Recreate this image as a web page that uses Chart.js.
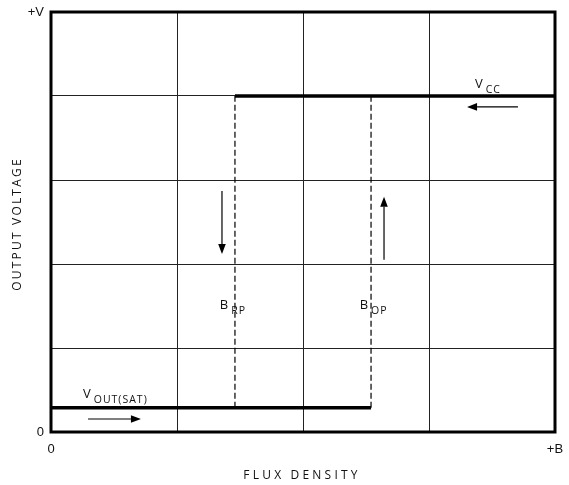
<!DOCTYPE html>
<html>
<head>
  <meta charset="UTF-8">
  <title>Output Voltage vs Flux Density</title>
  <script src="https://cdn.jsdelivr.net/npm/chart.js"></script>
  <style>
    html, body { margin: 0; padding: 0; background: #fff; }
    #wrap { width: 569px; height: 485px; }
  </style>
</head>
<body>
  <div id="wrap"><canvas id="hallChart"></canvas></div>

  <script>
    // axis ranges and end labels
    const xTicks = [0, 4];
    const xTickText = ['0', '+B'];
    const yTicks = [0, 5];
    const yTickText = ['0', '+V'];

    // switching points and output levels
    const vSat = 0.29;
    const vCC = 4;
    const bRP = 1.46;
    const bOP = 2.54;

    const lowLine = [{ x: 0, y: vSat }, { x: bOP, y: vSat }];
    const highLine = [{ x: bRP, y: vCC }, { x: 4, y: vCC }];
    const rpDash = [{ x: bRP, y: vSat }, { x: bRP, y: vCC }];
    const opDash = [{ x: bOP, y: vSat }, { x: bOP, y: vCC }];

    // arrows: [x from, y from, x to, y to]
    const arrows = [
      [1.357, 2.87, 1.357, 2.12],
      [2.643, 2.05, 2.643, 2.80],
      [0.294, 0.155, 0.714, 0.155],
      [3.706, 3.87, 3.302, 3.87]
    ];

    // labels: [text, subscript, x, y]
    const labels = [
      ['V', 'CC', 3.365, 4.095],
      ['V', 'OUT(SAT)', 0.254, 0.405],
      ['B', 'RP', 1.34, 1.46],
      ['B', 'OP', 2.45, 1.46]
    ];

    const labelFont = '"Open Sans", sans-serif';

    const drawingPlugin = {
      id: 'drawing',
      afterDatasetsDraw(chart) {
        const ctx = chart.ctx;
        const xs = chart.scales.x, ys = chart.scales.y;
        const a = chart.chartArea;
        ctx.save();

        // heavy frame
        ctx.strokeStyle = '#000';
        ctx.lineWidth = 3;
        ctx.strokeRect(a.left, a.top, a.right - a.left, a.bottom - a.top);

        // arrows
        ctx.lineWidth = 1.2;
        ctx.fillStyle = '#000';
        arrows.forEach(ar => {
          const x1 = xs.getPixelForValue(ar[0]), y1 = ys.getPixelForValue(ar[1]);
          const x2 = xs.getPixelForValue(ar[2]), y2 = ys.getPixelForValue(ar[3]);
          const ang = Math.atan2(y2 - y1, x2 - x1);
          const len = 10, half = 3.8;
          ctx.beginPath();
          ctx.moveTo(x1, y1);
          ctx.lineTo(x2 - len * Math.cos(ang), y2 - len * Math.sin(ang));
          ctx.stroke();
          ctx.beginPath();
          ctx.moveTo(x2, y2);
          ctx.lineTo(x2 - len * Math.cos(ang) + half * Math.sin(ang), y2 - len * Math.sin(ang) - half * Math.cos(ang));
          ctx.lineTo(x2 - len * Math.cos(ang) - half * Math.sin(ang), y2 - len * Math.sin(ang) + half * Math.cos(ang));
          ctx.closePath();
          ctx.fill();
        });

        // labels with subscripts
        ctx.fillStyle = '#111';
        ctx.textBaseline = 'alphabetic';
        ctx.textAlign = 'left';
        labels.forEach(l => {
          const px = xs.getPixelForValue(l[2]), py = ys.getPixelForValue(l[3]);
          ctx.font = '13px ' + labelFont;
          ctx.letterSpacing = '0px';
          ctx.fillText(l[0], px, py);
          const w = ctx.measureText(l[0]).width;
          ctx.font = '10.5px ' + labelFont;
          ctx.letterSpacing = '1px';
          ctx.fillText(l[1], px + w + 3, py + 5);
        });

        // axis titles
        ctx.font = '12px ' + labelFont;
        ctx.letterSpacing = '3.2px';
        ctx.textAlign = 'center';
        ctx.textBaseline = 'middle';
        ctx.fillText('FLUX DENSITY', 302, 476);
        ctx.translate(18, 224);
        ctx.rotate(-Math.PI / 2);
        ctx.letterSpacing = '2.2px';
        ctx.fillText('OUTPUT VOLTAGE', 0, 0);
        ctx.restore();
      }
    };

    const thick = { borderColor: '#000', borderWidth: 3.5, pointRadius: 0, showLine: true, clip: false };
    const dashed = { borderColor: '#000', borderWidth: 1.2, borderDash: [6, 3], pointRadius: 0, showLine: true, clip: false };

    new Chart(document.getElementById('hallChart'), {
      type: 'scatter',
      data: {
        datasets: [
          { label: 'rp', data: rpDash, ...dashed },
          { label: 'op', data: opDash, ...dashed },
          { label: 'low', data: lowLine, ...thick },
          { label: 'high', data: highLine, ...thick }
        ]
      },
      options: {
        responsive: true,
        maintainAspectRatio: false,
        animation: false,
        layout: { padding: { top: 12, right: 14, left: 0, bottom: 0 } },
        plugins: {
          legend: { display: false },
          tooltip: { enabled: false }
        },
        scales: {
          x: {
            type: 'linear', min: 0, max: 4,
            afterFit(scale) {
              scale.height = 53;
              scale.paddingLeft = 0;
              scale.paddingRight = 0;
            },
            grid: { color: '#222', lineWidth: 1, drawTicks: false },
            border: { display: false },
            ticks: {
              stepSize: 1, padding: 10, color: '#111',
              font: { family: '"Liberation Sans", Arial, sans-serif', size: 13 },
              callback: v => xTicks.includes(v) ? xTickText[xTicks.indexOf(v)] : ''
            }
          },
          y: {
            type: 'linear', min: 0, max: 5,
            afterFit(scale) {
              scale.width = 51;
              scale.paddingTop = 0;
              scale.paddingBottom = 0;
            },
            grid: { color: '#222', lineWidth: 1, drawTicks: false },
            border: { display: false },
            ticks: {
              stepSize: 1, padding: 7, color: '#111',
              font: { family: '"Liberation Sans", Arial, sans-serif', size: 13 },
              callback: v => yTicks.includes(v) ? yTickText[yTicks.indexOf(v)] : ''
            }
          }
        }
      },
      plugins: [drawingPlugin]
    });
  </script>
</body>
</html>
